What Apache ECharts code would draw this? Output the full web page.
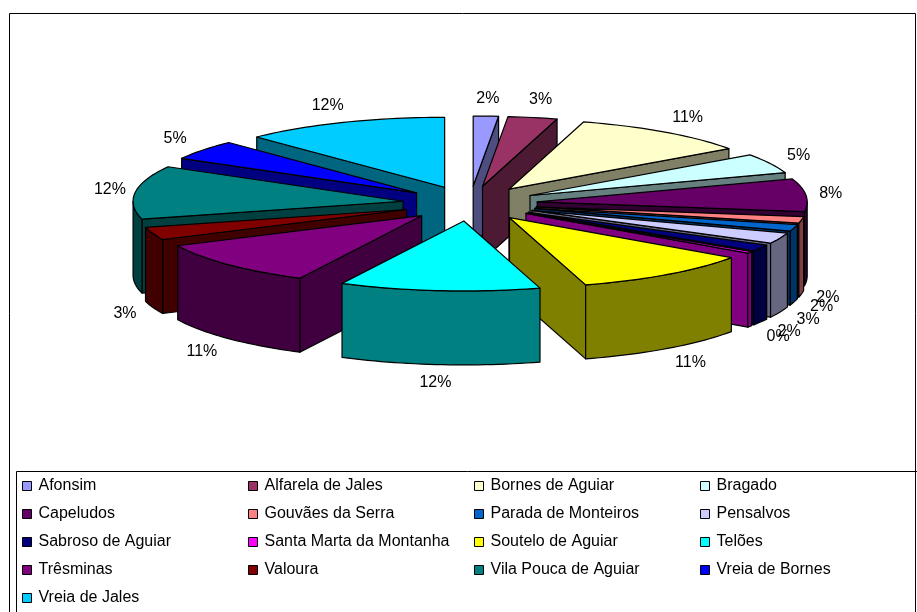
<!DOCTYPE html>
<html><head><meta charset="utf-8">
<style>html,body{margin:0;padding:0;background:#fff}#c{width:917px;height:612px}</style>
<script src="https://cdn.jsdelivr.net/npm/echarts@6/dist/echarts.min.js"></script>
</head><body><div id="c"></div>
<script>
const categories=['Afonsim','Alfarela de Jales','Bornes de Aguiar','Bragado','Capeludos','Gouvães da Serra','Parada de Monteiros','Pensalvos','Sabroso de Aguiar','Santa Marta da Montanha','Soutelo de Aguiar','Telões','Trêsminas','Valoura','Vila Pouca de Aguiar','Vreia de Bornes','Vreia de Jales'];
const values=[1.5,2.95,10.7,4.55,7.55,1.5,1.5,2.5,1.5,0.4,10.8,12.0,10.5,2.95,12.3,4.55,12.25];
const colors=['#9999FF','#993366','#FFFFCC','#CCFFFF','#660066','#FF8080','#0066CC','#CCCCFF','#000080','#FF00FF','#FFFF00','#00FFFF','#800080','#800000','#008080','#0000FF','#00CCFF'];

const CX=470,CY=203.5,RX=270,RY=70,DEPTH=74,EXPLODE=0.25;
const total=values.reduce((a,b)=>a+b,0);
let acc=0;
const slices=values.map((v,i)=>{const s=acc;acc+=v/total*360;return {i,start:s,end:acc,mid:(s+acc)/2,pct:Math.round(v/total*100+1e-6)};});
const rad=d=>d*Math.PI/180;
const dim=c=>'#'+[1,3,5].map(k=>Math.round(parseInt(c.substr(k,2),16)/2).toString(16).padStart(2,'0')).join('');

function renderSlice(s){
  const ax=CX+EXPLODE*RX*Math.sin(rad(s.mid)),ay=CY-EXPLODE*RY*Math.cos(rad(s.mid));
  const pt=(a,d)=>[ax+RX*Math.sin(rad(a)),ay-RY*Math.cos(rad(a))+(d||0)];
  const arc=(a,b,d)=>{const n=Math.max(2,Math.ceil((b-a)/1.5)),o=[];for(let k=0;k<=n;k++)o.push(pt(a+(b-a)*k/n,d));return o;};
  const col=colors[s.i],dark=dim(col);
  const face=(pts,fill)=>({type:'polygon',shape:{points:pts},style:{fill:fill,stroke:'#000',lineWidth:1.2,lineJoin:'round'},silent:true});
  const kids=[];
  const apex=[ax,ay],apexB=[ax,ay+DEPTH];
  if(Math.cos(rad(s.start-90))<0){kids.push(face([apex,pt(s.start),pt(s.start,DEPTH),apexB],dark));}
  if(Math.cos(rad(s.end+90))<0){kids.push(face([apex,pt(s.end),pt(s.end,DEPTH),apexB],dark));}
  const a=Math.max(s.start,90),b=Math.min(s.end,270);
  if(b>a){kids.push(face(arc(a,b,0).concat(arc(a,b,DEPTH).reverse()),dark));}
  kids.push(face([apex].concat(arc(s.start,s.end,0)),col));
  const m=rad(s.mid),cm=Math.cos(m),sm=Math.sin(m);
  const lx=ax+(RX+23)*sm+10*Math.abs(Math.sin(2*m))*Math.sign(sm),ly=ay-(RY+18)*cm+(cm<0?DEPTH:0);
  kids.push({type:'text',z2:50,silent:true,x:lx,y:ly,style:{text:s.pct+'%',fill:'#000',font:'16px "Liberation Sans",Arial,sans-serif',textAlign:'center',textVerticalAlign:'middle'}});
  return {type:'group',children:kids};
}

const order=slices.slice().sort((p,q)=>Math.cos(rad(q.mid))-Math.cos(rad(p.mid)));
const series=order.map(s=>({
  type:'custom',name:categories[s.i],coordinateSystem:'none',z:2,
  itemStyle:{color:colors[s.i]},animation:false,silent:true,
  data:[[values[s.i]]],
  renderItem:()=>renderSlice(s)
}));
const cols=[22,248,474,700];
const legends=cols.map((x,c)=>({
  orient:'vertical',left:x,top:478,padding:0,itemWidth:9,itemHeight:9,itemGap:12,icon:'rect',
  selectedMode:false,
  data:categories.filter((_,i)=>i%4===c),
  itemStyle:{borderColor:'#000',borderWidth:1},
  textStyle:{color:'#000',fontFamily:'"Liberation Sans",Arial,sans-serif',fontSize:16,padding:[0,0,0,2],lineHeight:16}
}));
const chart=echarts.init(document.getElementById('c'),null,{renderer:'canvas'});
chart.setOption({
  animation:false,backgroundColor:'#fff',
  legend:legends,
  series:series,
  graphic:[
    {type:'rect',silent:true,z:0,shape:{x:9.5,y:13.5,width:906,height:640},style:{fill:'none',stroke:'#000',lineWidth:1}},
    {type:'rect',silent:true,z:0,shape:{x:16.5,y:471.5,width:960,height:200},style:{fill:'none',stroke:'#000',lineWidth:1}}
  ]
});
</script></body></html>
